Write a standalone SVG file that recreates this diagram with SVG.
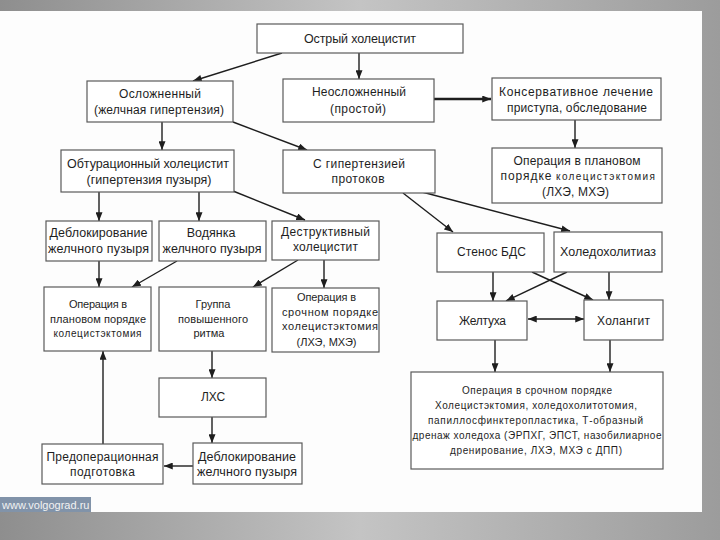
<svg xmlns="http://www.w3.org/2000/svg" width="720" height="540" viewBox="0 0 720 540">
<defs>
<linearGradient id="bg" x1="0" y1="0" x2="1" y2="0">
<stop offset="0" stop-color="#8e8e8e"/>
<stop offset="0.5" stop-color="#c4c4c4"/>
<stop offset="1" stop-color="#9c9c9c"/>
</linearGradient>
<marker id="ah" viewBox="0 0 10 8" refX="10" refY="4" markerWidth="9" markerHeight="7" markerUnits="userSpaceOnUse" orient="auto-start-reverse">
<path d="M0,0 L10,4 L0,8 z" fill="#1e1e1e"/>
</marker>
<style>
.box{fill:#fff;stroke:#5a5a5a;stroke-width:1.2}
.t{font-family:"Liberation Sans",Arial,sans-serif;font-size:12.5px;fill:#1e1e1e;text-anchor:middle}
.m{font-size:12px}
.s{font-size:11px}
.xs{font-size:10px}
.c{stroke:#1e1e1e;stroke-width:1.4;fill:none;marker-end:url(#ah)}
</style>
</defs>
<rect x="0" y="0" width="720" height="540" fill="url(#bg)"/>
<rect x="0" y="11" width="702" height="501" fill="#fdfdfd"/>
<g id="watermark">
<rect x="0" y="497" width="91" height="15" fill="#8193a9"/>
<text x="2" y="509" style="font-family:'Liberation Sans',Arial,sans-serif;font-size:11px;fill:#f2f2f2">www.volgograd.ru</text>
</g>

<g id="connectors">
<line class="c" x1="282" y1="53" x2="193" y2="81"/>
<line class="c" x1="359" y1="53" x2="359" y2="79"/>
<line class="c" x1="434" y1="99" x2="491" y2="99" style="stroke-width:2.6"/>
<line class="c" x1="575" y1="120" x2="575" y2="148"/>
<line class="c" x1="162" y1="122" x2="162" y2="150"/>
<line class="c" x1="233" y1="122" x2="307" y2="150"/>
<line class="c" x1="99" y1="192" x2="99" y2="221"/>
<line class="c" x1="199" y1="192" x2="199" y2="221"/>
<line class="c" x1="233" y1="191" x2="305" y2="220"/>
<line class="c" x1="99" y1="261" x2="99" y2="287"/>
<line class="c" x1="177" y1="261" x2="132" y2="287"/>
<line class="c" x1="298" y1="260" x2="253" y2="287"/>
<line class="c" x1="324" y1="260" x2="324" y2="288"/>
<line class="c" x1="212" y1="351" x2="212" y2="378"/>
<line class="c" x1="212" y1="417" x2="212" y2="443"/>
<line class="c" x1="193" y1="466" x2="164" y2="466"/>
<line class="c" x1="103" y1="444" x2="103" y2="351"/>
<line class="c" x1="403" y1="193" x2="453" y2="232"/>
<line class="c" x1="422" y1="192" x2="570" y2="231"/>
<line class="c" x1="493" y1="272" x2="493" y2="301"/>
<line class="c" x1="532" y1="272" x2="593" y2="300"/>
<line class="c" x1="567" y1="272" x2="506" y2="301"/>
<line class="c" x1="609" y1="272" x2="609" y2="300"/>
<line class="c" x1="528" y1="319" x2="584" y2="319" style="marker-start:url(#ah)"/>
<line class="c" x1="495" y1="340" x2="495" y2="372"/>
<line class="c" x1="610" y1="340" x2="610" y2="372"/>
</g>

<g id="n1"><rect class="box" x="257" y="24" width="206" height="29"/>
<text class="t" x="360" y="42.5" textLength="112">Острый холецистит</text></g>

<g id="n2"><rect class="box" x="87" y="81" width="146" height="41"/>
<text class="t m" x="160" y="97.5" textLength="82">Осложненный</text>
<text class="t m" x="159" y="113.5" textLength="130">(желчная гипертензия)</text></g>

<g id="n3"><rect class="box" x="283" y="79" width="151" height="43"/>
<text class="t m" x="359" y="96" textLength="94">Неосложненный</text>
<text class="t m" x="358" y="113" textLength="56">(простой)</text></g>

<g id="n4"><rect class="box" x="492" y="78" width="169" height="42"/>
<text class="t m" x="576" y="96" textLength="154">Консервативное лечение</text>
<text class="t m" x="577" y="112" textLength="140">приступа, обследование</text></g>

<g id="n5"><rect class="box" x="61" y="150" width="173" height="42"/>
<text class="t" x="148" y="167.5" textLength="162">Обтурационный холецистит</text>
<text class="t" x="149" y="183.5" textLength="125">(гипертензия пузыря)</text></g>

<g id="n6"><rect class="box" x="283" y="150" width="152" height="43"/>
<text class="t m" x="359" y="167.5" textLength="92">С гипертензией</text>
<text class="t m" x="358" y="183" textLength="53">протоков</text></g>

<g id="n7"><rect class="box" x="492" y="148" width="170" height="55"/>
<text class="t m" x="577" y="165" textLength="127">Операция в плановом</text>
<text class="t m" x="526" y="180" textLength="51">порядке</text>
<text class="t xs" x="605.5" y="180" textLength="99" lengthAdjust="spacing">колецистэктомия</text>
<text class="t m" x="575.5" y="196" textLength="67">(ЛХЭ, МХЭ)</text></g>

<g id="n8"><rect class="box" x="46" y="221" width="106" height="40"/>
<text class="t" x="98.5" y="237" textLength="98">Деблокирование</text>
<text class="t" x="98.5" y="252.5" textLength="101">желчного пузыря</text></g>

<g id="n9"><rect class="box" x="159" y="221" width="107" height="40"/>
<text class="t" x="211" y="237">Водянка</text>
<text class="t" x="212" y="252.5" textLength="99">желчного пузыря</text></g>

<g id="n10"><rect class="box" x="272" y="221" width="107" height="39"/>
<text class="t m" x="325.5" y="236" textLength="89">Деструктивный</text>
<text class="t m" x="325.5" y="251" textLength="65">холецистит</text></g>

<g id="n11"><rect class="box" x="44" y="287" width="107" height="64"/>
<text class="t s" x="98" y="308" textLength="58">Операция в</text>
<text class="t s" x="98" y="323" textLength="96">плановом порядке</text>
<text class="t xs" x="97.5" y="337" textLength="88" lengthAdjust="spacing">колецистэктомия</text></g>

<g id="n12"><rect class="box" x="159" y="287" width="107" height="64"/>
<text class="t s" x="213" y="308">Группа</text>
<text class="t s" x="213" y="323" textLength="70">повышенного</text>
<text class="t s" x="209" y="337">ритма</text></g>

<g id="n13"><rect class="box" x="272" y="288" width="107" height="64"/>
<text class="t s" x="326.5" y="300.5" textLength="59">Операция в</text>
<text class="t s" x="330" y="315.5" textLength="96">срочном порядке</text>
<text class="t s" x="330" y="330" textLength="96">холецистэктомия</text>
<text class="t s" x="326.5" y="345.5" textLength="60">(ЛХЭ, МХЭ)</text></g>

<g id="n14"><rect class="box" x="437" y="233" width="107" height="39"/>
<text class="t m" x="491.5" y="256" textLength="69">Стенос БДС</text></g>

<g id="n15"><rect class="box" x="554" y="232" width="108" height="40"/>
<text class="t" x="608" y="256" textLength="96">Холедохолитиаз</text></g>

<g id="n16"><rect class="box" x="437" y="301" width="90" height="39"/>
<text class="t m" x="482.5" y="324.5" textLength="47">Желтуха</text></g>

<g id="n17"><rect class="box" x="584" y="300" width="79" height="40"/>
<text class="t m" x="623.5" y="324.5" textLength="53">Холангит</text></g>

<g id="n18"><rect class="box" x="159" y="378" width="107" height="39"/>
<text class="t m" x="213" y="401">ЛХС</text></g>

<g id="n19"><rect class="box" x="42" y="444" width="121" height="40"/>
<text class="t m" x="102.5" y="461" textLength="112">Предоперационная</text>
<text class="t m" x="102.5" y="475.5" textLength="65">подготовка</text></g>

<g id="n20"><rect class="box" x="193" y="443" width="109" height="41"/>
<text class="t" x="247" y="461" textLength="98">Деблокирование</text>
<text class="t" x="247" y="475.5" textLength="100">желчного пузыря</text></g>

<g id="n21"><rect class="box" x="411" y="372" width="252" height="97"/>
<text class="t xs" x="537" y="394" textLength="150" lengthAdjust="spacing">Операция в срочном порядке</text>
<text class="t xs" x="536" y="408.5" textLength="202" lengthAdjust="spacing">Холецистэктомия, холедохолитотомия,</text>
<text class="t xs" x="535.5" y="424" textLength="215" lengthAdjust="spacing">папиллосфинктеропластика, Т-образный</text>
<text class="t xs" x="537" y="439" textLength="249" lengthAdjust="spacing">дренаж холедоха (ЭРПХГ, ЭПСТ, назобилиарное</text>
<text class="t xs" x="536" y="453.5" textLength="172" lengthAdjust="spacing">дренирование, ЛХЭ, МХЭ с ДПП)</text></g>
</svg>
